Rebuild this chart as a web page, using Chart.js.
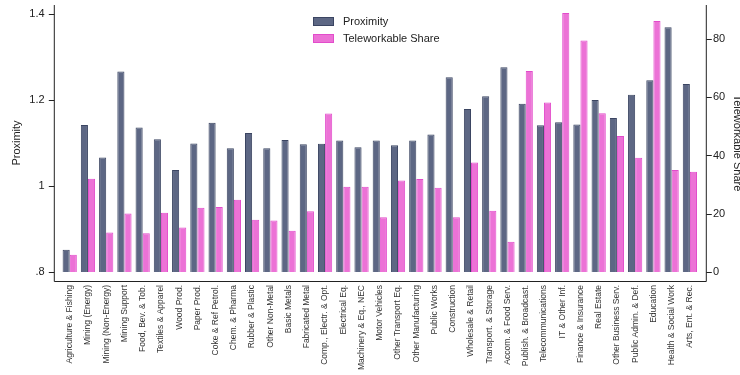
<!DOCTYPE html>
<html>
<head>
<meta charset="utf-8">
<script src="https://cdn.jsdelivr.net/npm/chart.js@4.4.0/dist/chart.umd.min.js"></script>
<style>
  html, body { margin: 0; padding: 0; background: #fff; }
  #wrap { width: 740px; height: 375px; }
</style>
</head>
<body>
<div id="wrap"><canvas id="proxChart" width="740" height="375"></canvas></div>
<script>
const industries = [
  'Agriculture & Fishing', 'Mining (Energy)', 'Mining (Non-Energy)', 'Mining Support',
  'Food, Bev. & Tob.', 'Textiles & Apparel', 'Wood Prod.', 'Paper Prod.',
  'Coke & Ref Petrol.', 'Chem. & Pharma', 'Rubber & Plastic', 'Other Non-Metal',
  'Basic Metals', 'Fabricated Metal', 'Comp., Electr. & Opt.', 'Electrical Eq.',
  'Machinery & Eq., NEC', 'Motor Vehicles', 'Other Transport Eq.', 'Other Manufacturing',
  'Public Works', 'Construction', 'Wholesale & Retail', 'Transport. & Storage',
  'Accom. & Food Serv.', 'Publish. & Broadcast.', 'Telecommunications', 'IT & Other Inf.',
  'Finance & Insurance', 'Real Estate', 'Other Business Serv.', 'Public Admin. & Def.',
  'Education', 'Health & Social Work', 'Arts, Ent. & Rec.'
];

const proximity = [
  0.852, 1.142, 1.066, 1.266, 1.136, 1.109, 1.037, 1.099,
  1.147, 1.088, 1.123, 1.088, 1.107, 1.097, 1.098, 1.106,
  1.090, 1.106, 1.095, 1.106, 1.120, 1.253, 1.179, 1.209,
  1.276, 1.191, 1.141, 1.148, 1.143, 1.200, 1.158, 1.212,
  1.246, 1.369, 1.237
];

const teleworkShare = [
  5.9, 32.0, 13.6, 20.1, 13.3, 20.3, 15.3, 22.1,
  22.3, 24.8, 17.9, 17.7, 14.2, 20.9, 54.4, 29.3,
  29.3, 18.8, 31.4, 31.9, 28.9, 18.8, 37.6, 21.0,
  10.4, 69.0, 58.2, 88.9, 79.5, 54.5, 46.7, 39.2,
  86.2, 35.0, 34.4
];

const proxTicks = [0.8, 1, 1.2, 1.4];
const proxTickLabels = ['.8', '1', '1.2', '1.4'];
const shareTicks = [0, 20, 40, 60, 80];

const proxBase = 0.8;
const axisGap = 6.8;   // space between outer bars and the axis lines
const ink = '#222';

Chart.defaults.font.family = '"Liberation Sans", Arial, Helvetica, sans-serif';
Chart.defaults.color = ink;

// fixed scale sizes; drop the label overhang padding so the plot starts at the top
const fixSize = (w, h) => s => {
  if (w !== null) s.width = w;
  if (h !== null) s.height = h;
  s.paddingTop = 0; s.paddingBottom = 0;
  s.paddingLeft = 0; s.paddingRight = 0;
};

// axis lines sit a little outside the plotted bars, Stata style
const frame = {
  id: 'frame',
  afterDraw(chart) {
    const { ctx, chartArea: a, scales } = chart;
    const left = a.left - axisGap, right = a.right + axisGap;
    ctx.save();
    ctx.strokeStyle = ink;
    ctx.lineWidth = 1;
    ctx.beginPath();
    ctx.moveTo(left + 0.5, a.top);
    ctx.lineTo(left + 0.5, a.bottom + 0.5);
    ctx.lineTo(right + 0.5, a.bottom + 0.5);
    ctx.lineTo(right + 0.5, a.top);
    proxTicks.forEach(v => {
      const y = Math.round(scales.yProx.getPixelForValue(v)) + 0.5;
      ctx.moveTo(left + 0.5, y);
      ctx.lineTo(left - 5, y);
    });
    shareTicks.forEach(v => {
      const y = Math.round(scales.yShare.getPixelForValue(v)) + 0.5;
      ctx.moveTo(right + 0.5, y);
      ctx.lineTo(right + 6, y);
    });
    ctx.stroke();

    // legend, stacked in a column near the top of the plot
    const lx = 313, ly = 17;
    ctx.font = '11px "Liberation Sans", Arial, sans-serif';
    ctx.textBaseline = 'middle';
    chart.data.datasets.forEach((ds, i) => {
      const y = ly + i * 17;
      ctx.fillStyle = ds.backgroundColor;
      ctx.fillRect(lx, y, 21, 9);
      ctx.strokeStyle = ds.borderColor;
      ctx.strokeRect(lx + 0.5, y + 0.5, 20, 8);
      ctx.fillStyle = ink;
      ctx.fillText(ds.label, lx + 30, y + 4.5);
    });
    ctx.restore();
  }
};

new Chart(document.getElementById('proxChart'), {
  type: 'bar',
  data: {
    labels: industries,
    datasets: [
      {
        label: 'Proximity',
        data: proximity.map(v => [proxBase, v]),
        backgroundColor: '#5d6784',
        borderColor: '#3b4562',
        borderWidth: 1,
        yAxisID: 'yProx'
      },
      {
        label: 'Teleworkable Share',
        data: teleworkShare,
        backgroundColor: '#ec72d6',
        borderColor: '#e24ccb',
        borderWidth: 1,
        yAxisID: 'yShare'
      }
    ]
  },
  options: {
    responsive: false,
    animation: false,
    devicePixelRatio: 1,
    categoryPercentage: 0.78,
    barPercentage: 1.0,
    layout: { padding: { top: 5, left: 0, right: 0, bottom: 0 } },
    plugins: { legend: { display: false }, tooltip: { enabled: false } },
    scales: {
      x: {
        grid: { display: false, drawTicks: false },
        border: { display: false },
        ticks: {
          autoSkip: false, maxRotation: 90, minRotation: 90,
          padding: 4, font: { size: 8.5 }, color: '#333'
        },
        afterFit: fixSize(null, 94)
      },
      yProx: {
        type: 'linear',
        position: 'left',
        min: 0.7791,
        max: 1.4209,
        grid: { display: false, drawTicks: false },
        border: { display: false },
        afterBuildTicks: s => { s.ticks = proxTicks.map(v => ({ value: v })); },
        ticks: {
          padding: 16,
          font: { size: 11 },
          callback: v => proxTickLabels[proxTicks.indexOf(v)]
        },
        title: { display: true, text: 'Proximity', font: { size: 11 }, padding: { top: 10, bottom: 0 } },
        afterFit: fixSize(60.6, null)
      },
      yShare: {
        type: 'linear',
        position: 'right',
        min: -3.09,
        max: 91.67,
        grid: { display: false, drawTicks: false },
        border: { display: false },
        afterBuildTicks: s => { s.ticks = shareTicks.map(v => ({ value: v })); },
        ticks: { padding: 14, font: { size: 11 } },
        title: { display: true, text: 'Teleworkable Share', font: { size: 11 }, padding: { top: -4, bottom: 0 } },
        afterFit: fixSize(41, null)
      }
    }
  },
  plugins: [frame]
});
</script>
</body>
</html>
